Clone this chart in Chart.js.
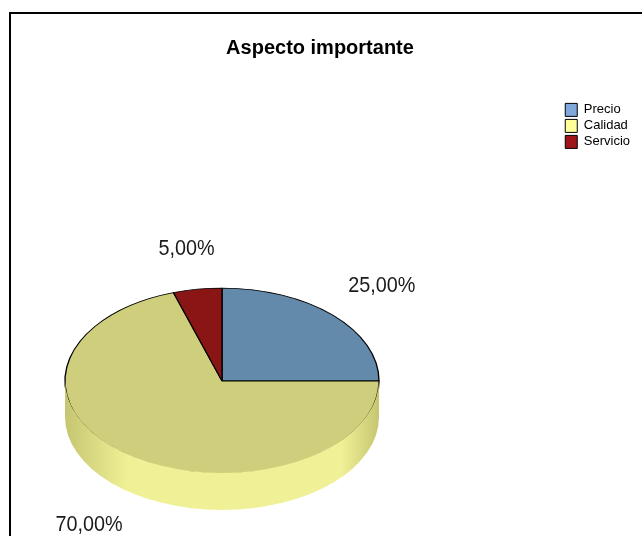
<!DOCTYPE html>
<html>
<head>
<meta charset="utf-8">
<script src="https://cdn.jsdelivr.net/npm/chart.js@4"></script>
<style>
  html, body { margin: 0; padding: 0; background: #fff; }
  #wrap { position: relative; width: 642px; height: 536px; overflow: hidden; }
  #frame { position: absolute; left: 9px; top: 12px; width: 700px; height: 600px;
           border-left: 2px solid #000; border-top: 2px solid #000; }
  #chartPie { position: absolute; left: 0; top: 0; }
</style>
</head>
<body>
<div id="wrap">
  <div id="frame"></div>
  <canvas id="chartPie" width="642" height="536"></canvas>
</div>
<script>
const categories = ['Precio', 'Calidad', 'Servicio'];
const shares = [25, 70, 5];

// top face, legend swatch and side wall colours, one per slice
const topColors = ['#6389ab', '#cece7c', '#8a1515'];
const legendColors = ['#80a8da', '#ffff99', '#9e1418'];
const sideColors = [
  ['#6f8aa3', '#9bb6d0'],
  ['#c6c672', '#f0f096'],
  ['#701010', '#a82424']
];

const sans = "'Liberation Sans', Arial, sans-serif";

// squashes the pie into an ellipse, adds a side wall and percentage labels
const pie3d = {
  id: 'pie3d',
  beforeDatasetsDraw(chart, args, opts) {
    const ctx = chart.ctx;
    const { x, y, outerRadius } = chart.getDatasetMeta(0).data[0];
    const s = opts.radius / outerRadius;
    ctx.save();
    ctx.translate(opts.cx, opts.cy);
    ctx.scale(s, s * opts.tilt);
    ctx.translate(-x, -y);
  },
  afterDatasetsDraw(chart, args, opts) {
    const ctx = chart.ctx;
    ctx.restore();

    const arcs = chart.getDatasetMeta(0).data;
    const rx = opts.radius;
    const ry = rx * opts.tilt;

    // side wall: only the front half (0..PI) of the rim is visible;
    // it starts a pixel high so the front edge has no outline
    arcs.forEach((arc, i) => {
      const a1 = Math.max(arc.startAngle, 0);
      const a2 = Math.min(arc.endAngle, Math.PI);
      if (a2 <= a1) return;
      const [edge, mid] = sideColors[i];
      const g = ctx.createLinearGradient(opts.cx - rx, 0, opts.cx + rx, 0);
      g.addColorStop(0, edge);
      g.addColorStop(0.2, mid);
      g.addColorStop(0.5, mid);
      g.addColorStop(0.88, mid);
      g.addColorStop(1, edge);
      ctx.save();
      ctx.beginPath();
      ctx.ellipse(opts.cx, opts.cy - 1, rx, ry, 0, a1, a2);
      ctx.ellipse(opts.cx, opts.cy + opts.depth, rx, ry, 0, a2, a1, true);
      ctx.closePath();
      ctx.fillStyle = g;
      ctx.fill();
      ctx.restore();
    });

    // percentage labels
    const total = shares.reduce((a, b) => a + b, 0);
    const lr = rx * opts.labelRatio;
    ctx.save();
    ctx.font = `${opts.labelSize}px ${sans}`;
    ctx.fillStyle = '#1a1a1a';
    ctx.textAlign = 'center';
    ctx.textBaseline = 'middle';
    arcs.forEach((arc, i) => {
      const mid = (arc.startAngle + arc.endAngle) / 2;
      const lx = opts.cx + lr * Math.cos(mid);
      let ly = opts.cy + lr * opts.tilt * Math.sin(mid);
      if (Math.sin(mid) > 0) ly += opts.depth;
      const pct = (shares[i] / total * 100).toFixed(2).replace('.', ',') + '%';
      ctx.save();
      ctx.translate(lx, ly);
      ctx.scale(0.9, 1);
      ctx.fillText(pct, 0, 0);
      ctx.restore();
    });
    ctx.restore();
  }
};

new Chart(document.getElementById('chartPie'), {
  type: 'pie',
  plugins: [pie3d],
  data: {
    labels: categories,
    datasets: [{
      data: shares,
      backgroundColor: topColors,
      borderColor: '#000',
      borderWidth: 2
    }]
  },
  options: {
    responsive: false,
    animation: false,
    events: [],
    layout: { padding: { right: 2 } },
    plugins: {
      title: {
        display: true,
        text: 'Aspecto importante',
        color: '#000',
        font: { family: sans, size: 20, weight: 'bold' },
        padding: { top: 36, bottom: 10 }
      },
      legend: {
        position: 'right',
        align: 'start',
        title: { display: true, text: ' ', font: { size: 12 }, padding: { top: 86, bottom: 0 } },
        labels: {
          boxWidth: 12,
          boxHeight: 13,
          padding: 3,
          color: '#000',
          font: { family: sans, size: 13 },
          generateLabels: () => categories.map((text, i) => ({
            text,
            fillStyle: legendColors[i],
            strokeStyle: '#000',
            lineWidth: 1,
            hidden: false,
            index: i,
            fontColor: '#000'
          }))
        }
      },
      tooltip: { enabled: false },
      pie3d: { cx: 222, cy: 381, radius: 157, tilt: 0.592, depth: 36, labelRatio: 1.44, labelSize: 22 }
    }
  }
});
</script>
</body>
</html>
